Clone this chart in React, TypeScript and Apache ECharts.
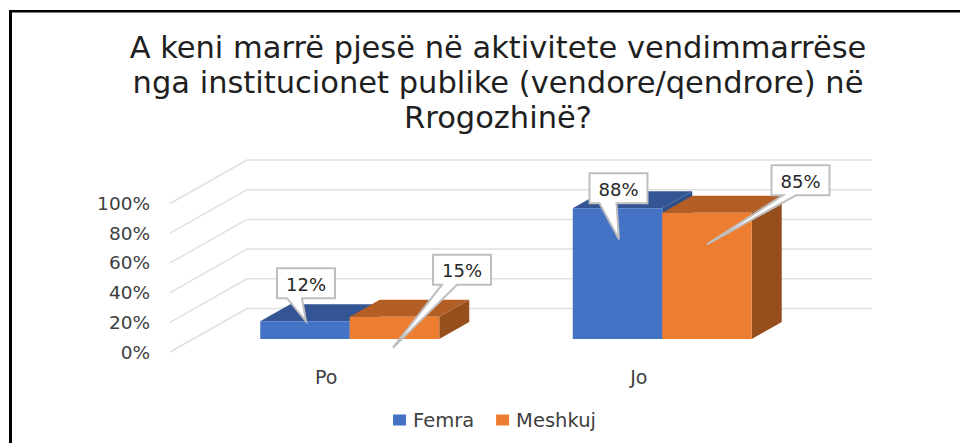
import React, { useEffect, useRef } from "react";
import * as echarts from "echarts";

const titleText = "A keni marrë pjesë në aktivitete vendimmarrëse\nnga institucionet publike (vendore/qendrore) në\nRrogozhinë?";
const categories = ["Po", "Jo"];
const femra = [12, 88];
const meshkuj = [15, 85];
const gridTicks = [0, 20, 40, 60, 80, 100];
const legendNames = ["Femra", "Meshkuj"];

const FONT = "'DejaVu Sans', sans-serif";
// 3-D projection constants, px
const DEPTH_X = 77;
const DEPTH_Y = -43.5;
const BAR_SHIFT_X = 23.5;
const BAR_SHIFT_Y = -13;
const BAR_DX = 30;
const BAR_DY = -17;
const BAR_W = 89.5;

// callout placement relative to bar's front-top centre: [boxCx, boxCy, tipX, tipY, baseX0, baseX1]
const calloutsF = [
  [1, -38, 1, 0, -18, -3],
  [1, -20, 1.5, 31, -18, -1],
];
const calloutsM = [
  [67.5, -47, -1.5, 31, 47.5, 62.5],
  [93.5, -32.5, 0, 31.5, 76, 89],
];

function barRenderer(seriesIndex: number, front: string, top: string, side: string) {
  return (params: any, api: any) => {
    const cat = api.value(0);
    const val = api.value(1);
    const [cx, y0] = api.coord([cat, 0]);
    const [, y1] = api.coord([cat, val]);
    const x0 = cx + BAR_SHIFT_X + (seriesIndex === 0 ? -BAR_W : 0);
    const x1 = x0 + BAR_W;
    const b = y0 + BAR_SHIFT_Y;
    const t = y1 + BAR_SHIFT_Y;
    return {
      type: "group",
      children: [
        { type: "polygon", shape: { points: [[x1, b], [x1 + BAR_DX, b + BAR_DY], [x1 + BAR_DX, t + BAR_DY], [x1, t]] }, style: { fill: side } },
        { type: "polygon", shape: { points: [[x0, t], [x0 + BAR_DX, t + BAR_DY], [x1 + BAR_DX, t + BAR_DY], [x1, t]] }, style: { fill: top } },
        { type: "rect", shape: { x: x0, y: t, width: BAR_W, height: b - t }, style: { fill: front } },
      ],
    };
  };
}

function calloutRenderer(seriesIndex: number, offsets: number[][]) {
  return (params: any, api: any) => {
    const cat = api.value(0);
    const val = api.value(1);
    const [cx] = api.coord([cat, 0]);
    const [, y1] = api.coord([cat, val]);
    const ax = cx + BAR_SHIFT_X + (seriesIndex === 0 ? -BAR_W / 2 : BAR_W / 2);
    const ay = y1 + BAR_SHIFT_Y;
    const [bx, by, tx, ty, b0, b1] = offsets[params.dataIndex];
    const hw = 29;
    const hh = 15;
    const l = ax + bx - hw;
    const r = ax + bx + hw;
    const tp = ay + by - hh;
    const bt = ay + by + hh;
    return {
      type: "group",
      children: [
        {
          type: "polygon",
          shape: {
            points: [[l, tp], [r, tp], [r, bt], [ax + b1, bt], [ax + tx, ay + ty], [ax + b0, bt], [l, bt]],
          },
          style: { fill: "#ffffff", stroke: "#bfbfbf", lineWidth: 2 },
        },
        {
          type: "text",
          style: {
            x: ax + bx,
            y: ay + by + 1,
            text: `${val}%`,
            fill: "#262626",
            font: `18px ${FONT}`,
            textAlign: "center",
            textVerticalAlign: "middle",
          },
        },
      ],
    };
  };
}

const App = () => {
  const ref = useRef<HTMLDivElement>(null);
  useEffect(() => {
    const chart = echarts.init(ref.current!, undefined, { renderer: "svg" });
    chart.setOption({
      animation: false,
      backgroundColor: "#ffffff",
      title: {
        text: titleText,
        left: 493,
        top: 25,
        textAlign: "center",
        textStyle: { fontFamily: FONT, fontSize: 30.5, fontWeight: "normal", color: "#1f1f1f", lineHeight: 35 },
      },
      legend: {
        data: legendNames,
        left: 388,
        top: 405,
        itemWidth: 13,
        itemHeight: 11,
        itemGap: 22,
        icon: "rect",
        textStyle: { fontFamily: FONT, fontSize: 19.5, color: "#404040", padding: [0, 0, 0, 2] },
      },
      grid: { left: 170, top: 203.5, width: 625, height: 148.5 },
      xAxis: {
        type: "category",
        data: categories,
        axisLine: { show: false },
        axisTick: { show: false },
        axisLabel: { fontFamily: FONT, fontSize: 19, color: "#404040", margin: 15 },
      },
      yAxis: {
        type: "value",
        min: 0,
        max: 100,
        interval: 20,
        axisLine: { show: false },
        axisTick: { show: false },
        splitLine: { show: false },
        axisLabel: { fontFamily: FONT, fontSize: 18.5, color: "#404040", margin: 20, formatter: "{value}%" },
      },
      graphic: [
        { type: "rect", shape: { x: 9, y: 10, width: 3, height: 433 }, style: { fill: "#000000" } },
        { type: "rect", shape: { x: 9, y: 10, width: 951, height: 2.5 }, style: { fill: "#000000" } },
      ],
      series: [
        {
          type: "custom",
          name: "grid",
          silent: true,
          z: 1,
          data: gridTicks.map((v) => [v]),
          encode: { y: 0 },
          renderItem: (params: any, api: any) => {
            const v = api.value(0);
            const y = api.coord([0, v])[1];
            const cs = params.coordSys;
            return {
              type: "polyline",
              shape: { points: [[cs.x, y], [cs.x + DEPTH_X, y + DEPTH_Y], [cs.x + cs.width + DEPTH_X, y + DEPTH_Y]] },
              style: { fill: "none", stroke: "#e0e0e0", lineWidth: 1.5 },
            };
          },
        },
        {
          type: "custom",
          name: "Femra",
          z: 2,
          itemStyle: { color: "#4472C4" },
          data: femra.map((v, i) => [i, v]),
          encode: { x: 0, y: 1 },
          renderItem: barRenderer(0, "#4472C4", "#335593", "#2E4F8C"),
        },
        {
          type: "custom",
          name: "Meshkuj",
          z: 3,
          itemStyle: { color: "#ED7D31" },
          data: meshkuj.map((v, i) => [i, v]),
          encode: { x: 0, y: 1 },
          renderItem: barRenderer(1, "#ED7D31", "#B25E25", "#964F1C"),
        },
        {
          type: "custom",
          name: "calloutF",
          z: 4,
          data: femra.map((v, i) => [i, v]),
          encode: { x: 0, y: 1 },
          renderItem: calloutRenderer(0, calloutsF),
        },
        {
          type: "custom",
          name: "calloutM",
          z: 5,
          data: meshkuj.map((v, i) => [i, v]),
          encode: { x: 0, y: 1 },
          renderItem: calloutRenderer(1, calloutsM),
        },
      ],
    });
    return () => chart.dispose();
  }, []);
  return <div ref={ref} style={{ position: "fixed", left: 0, top: 0, width: 960, height: 443 }} />;
};

export default App;
